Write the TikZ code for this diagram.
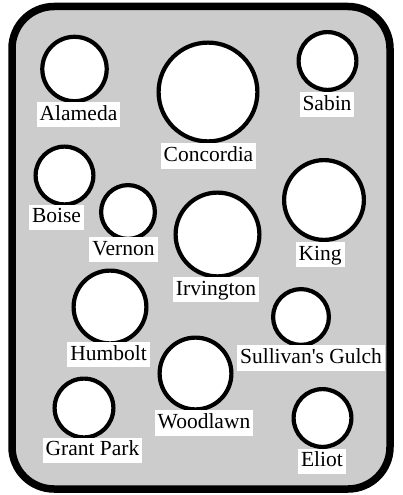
\documentclass[tikz,border=0pt]{standalone}
\usepackage{fontspec}
\setmainfont{Liberation Serif}
\begin{document}
\begin{tikzpicture}[x=1pt,y=-1pt,
  hood/.style={circle,draw=black,line width=4.2pt,fill=white,inner sep=0pt,minimum size=#1},
  lbl/.style={fill=white,inner xsep=3pt,inner ysep=2.5pt,text height=15.5pt,text depth=4.7pt,
    font=\fontsize{21.5pt}{24pt}\selectfont}]
\useasboundingbox (0,0) rectangle (402,495);
\draw[line width=7.5pt,fill=black!20,rounded corners=42pt] (12,6.5) rectangle (390,489);
% circles: diameter = 2*(outer radius) - line width
\node[hood=64.4pt] (alameda) at (74.5,69) {};
\node[hood=98.8pt] (concordia) at (208,92) {};
\node[hood=57.8pt] (sabin) at (327.5,61) {};
\node[hood=57.8pt] (boise) at (64.5,175.5) {};
\node[hood=53.8pt] (vernon) at (128,212) {};
\node[hood=83.8pt] (irvington) at (217.5,234.5) {};
\node[hood=79.8pt] (king) at (324,200) {};
\node[hood=72.8pt] (humbolt) at (110,307) {};
\node[hood=55.8pt] (sullivan) at (301,317) {};
\node[hood=71.8pt] (woodlawn) at (195.5,373.5) {};
\node[hood=58.8pt] (grantpark) at (84,408) {};
\node[hood=57.8pt] (eliot) at (322.5,418) {};
% labels
\node[lbl] (alamedaL) at (78.5,114.6) {Alameda};
\node[lbl] (concordiaL) at (208.5,156) {Concordia};
\node[lbl] (sabinL) at (327,104.6) {Sabin};
\node[lbl] (boiseL) at (56.5,217.3) {Boise};
\node[lbl] (vernonL) at (123.5,249.6) {Vernon};
\node[lbl] (irvingtonL) at (216,289.6) {Irvington};
\node[lbl] (kingL) at (320,254.6) {King};
\node[lbl] (humboltL) at (108.5,354.6) {Humbolt};
\node[lbl] (sullivanL) at (311,358) {Sullivan\textquotesingle s Gulch};
\node[lbl] (woodlawnL) at (204,423) {Woodlawn};
\node[lbl] (grantparkL) at (92.5,450.3) {Grant Park};
\node[lbl] (eliotL) at (322,461.3) {Eliot};
\end{tikzpicture}
\end{document}
